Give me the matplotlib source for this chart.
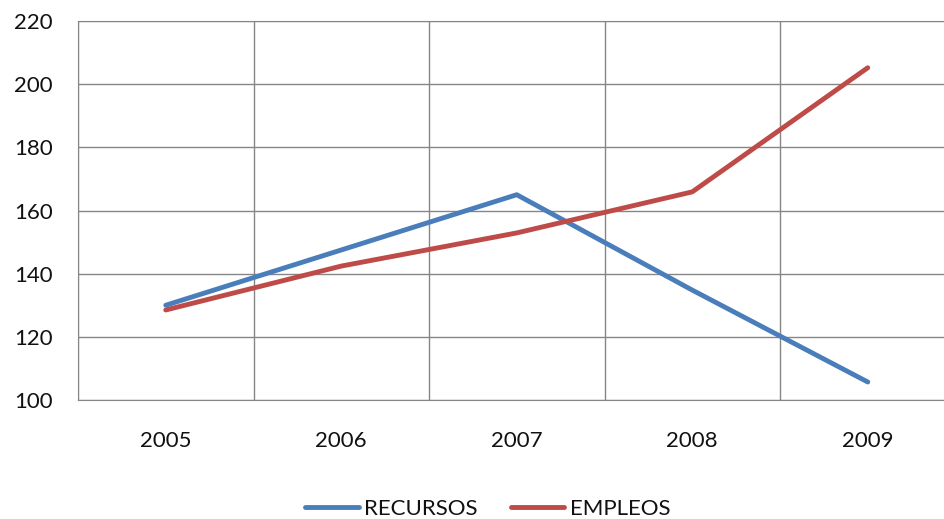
import numpy as np
import matplotlib.pyplot as plt

years = ['2005', '2006', '2007', '2008', '2009']
recursos = [130.0, 147.5, 165.0, 134.8, 105.7]
empleos = [128.5, 142.4, 152.9, 165.9, 205.2]

plt.rcParams['font.family'] = ['Lato', 'DejaVu Sans']

W, H = 944, 519
fig = plt.figure(figsize=(W / 100, H / 100), dpi=100)
# plot area runs past the right edge of the image, like the original
left, top, bottom, right = 78, 21, 400, 78 + 5 * 175.5
ax = fig.add_axes([left / W, 1 - bottom / H, (right - left) / W, (bottom - top) / H])

x = np.arange(len(years))
ax.plot(x, recursos, color='#4A7EBB', lw=3.5, solid_capstyle='round', label='RECURSOS')
ax.plot(x, empleos, color='#BE4B48', lw=3.5, solid_capstyle='round', label='EMPLEOS')

ax.set_xlim(-0.5, len(years) - 0.5)
ax.set_ylim(100, 220)
ax.set_yticks(np.arange(100, 221, 20))
ax.set_xticks(x)
ax.set_xticklabels(years)
ax.set_xticks(np.arange(-0.5, len(years), 1), minor=True)
ax.grid(True, which='minor', axis='x', color='#868686', lw=1)
ax.grid(True, which='major', axis='y', color='#868686', lw=1)
ax.set_axisbelow(True)
for s in ax.spines.values():
    s.set_color('#868686')
ax.tick_params(which='both', length=0, labelsize=16, colors='#111111')
ax.tick_params(axis='x', pad=22)
ax.tick_params(axis='y', pad=18)

fig.legend(loc='center', bbox_to_anchor=(488 / W, 1 - 509 / H), ncol=2, frameon=False,
           fontsize=16, handlelength=2.4, columnspacing=1.5, handletextpad=0.25,
           labelcolor='#111111')

fig.savefig('out.png', dpi=100)
